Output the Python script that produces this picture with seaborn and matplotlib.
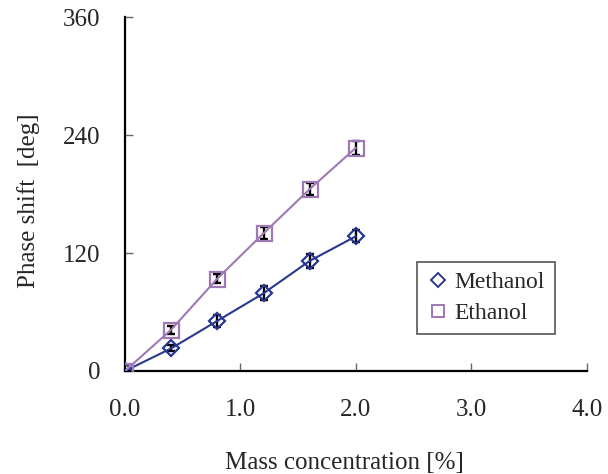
import numpy as np
import pandas as pd
import matplotlib
matplotlib.use("Agg")
import matplotlib.pyplot as plt
import seaborn as sns
from matplotlib.lines import Line2D

# data
concentration = [0.0, 0.4, 0.8, 1.2, 1.6, 2.0]
methanol = [0, 23, 51, 79, 112, 137]
methanol_err = [0, 3, 6, 7, 7, 6]
ethanol = [0, 42, 94, 140, 185, 227]
ethanol_err = [0, 4, 5, 6, 6, 7]

x_ticks = [0.0, 1.0, 2.0, 3.0, 4.0]
y_ticks = [0, 120, 240, 360]

sns.set_style("ticks")
plt.rcParams['font.family'] = ['Liberation Serif', 'DejaVu Serif']
plt.rcParams['font.size'] = 18

df = pd.DataFrame({
    'conc': concentration * 2,
    'shift': methanol + ethanol,
    'err': methanol_err + ethanol_err,
    'solvent': ['Methanol'] * len(methanol) + ['Ethanol'] * len(ethanol),
})

colors = {'Methanol': '#283891', 'Ethanol': '#9f78b6'}
markers = {'Methanol': 'D', 'Ethanol': 's'}
sizes = {'Methanol': 8.6, 'Ethanol': 10.8}

fig = plt.figure(figsize=(6.08, 4.74), dpi=100)
ax = fig.add_axes([0.2056, 0.2173, 0.7594, 0.7467])

for name in ['Methanol', 'Ethanol']:
    sub = df[df['solvent'] == name]
    ax.errorbar(sub['conc'], sub['shift'], yerr=sub['err'], fmt='none',
                ecolor='black', elinewidth=1.7, capsize=3, capthick=1.7, zorder=2)
    sns.lineplot(data=sub, x='conc', y='shift', ax=ax, color=colors[name],
                 linewidth=1.5, marker=markers[name], markersize=sizes[name],
                 markerfacecolor='none', markeredgecolor=colors[name],
                 markeredgewidth=1.6, label=name, zorder=3, legend=False)

ax.set_xlim(0, 4.0)
ax.set_ylim(0, 360)
ax.set_xticks(x_ticks)
ax.set_xticklabels([f"{t:.1f}" for t in x_ticks])
ax.set_yticks(y_ticks)
ax.tick_params(axis='x', direction='in', length=6, width=1, color='#666666', pad=20)
ax.tick_params(axis='y', direction='in', length=6, width=1, color='#666666', pad=18)
sns.despine(ax=ax)
for sp in ['left', 'bottom']:
    ax.spines[sp].set_linewidth(1.6)
    ax.spines[sp].set_color('black')
    ax.spines[sp].set_zorder(1)

ax.set_xlabel("Mass concentration [%]")
ax.set_ylabel("Phase shift  [deg]")
ax.xaxis.set_label_coords(0.476, -0.229)
ax.yaxis.set_label_coords(-0.184, 0.48)

handles = [Line2D([], [], linestyle='none', marker=markers[n], markersize=sizes[n] * 0.8,
                  markerfacecolor='none', markeredgecolor=colors[n], markeredgewidth=1.4)
           for n in ['Methanol', 'Ethanol']]
leg = ax.legend(handles, ['Methanol', 'Ethanol'], loc='lower left',
                bbox_to_anchor=(0.632, 0.105), frameon=True, fancybox=False,
                edgecolor='#555555', framealpha=1, handletextpad=0.25,
                handlelength=0.93, borderpad=0.42, labelspacing=0.4,
                borderaxespad=0, fontsize=17)
leg.get_frame().set_linewidth(1.2)

fig.savefig("out.png", dpi=100)
